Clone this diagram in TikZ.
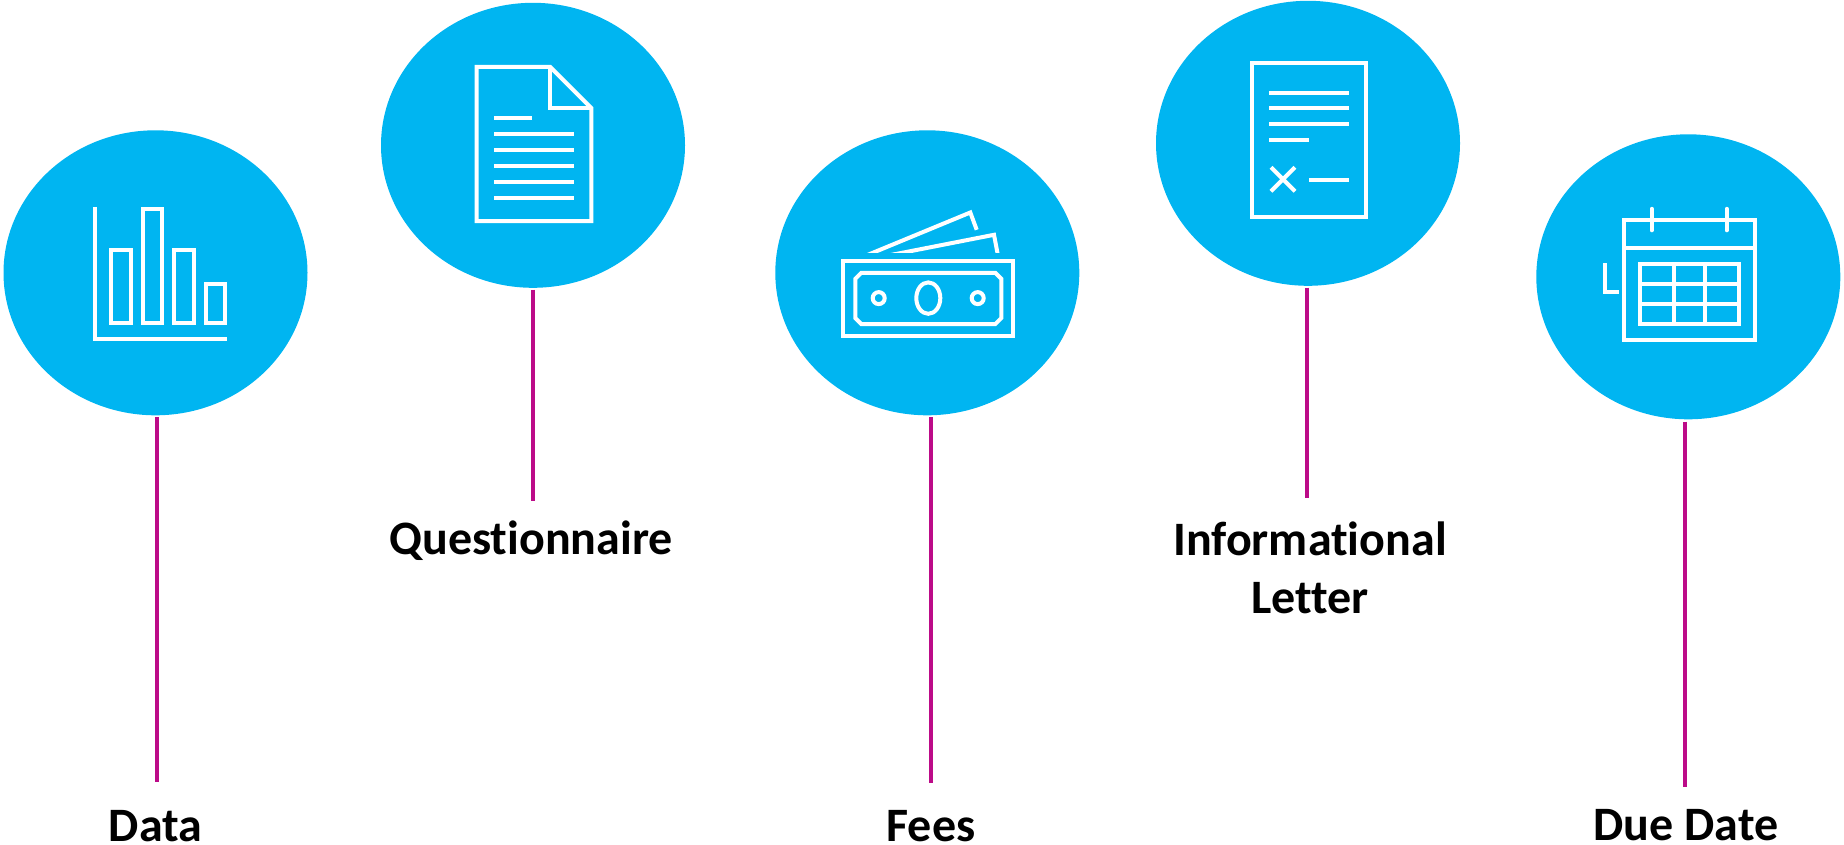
\documentclass[tikz,border=0pt]{standalone}
\usepackage{fontspec}
\setmainfont{Carlito}[Ligatures=NoCommon]
\usetikzlibrary{shapes.geometric}
\definecolor{bubble}{HTML}{00B5F1}
\definecolor{stem}{HTML}{BC0B88}
\tikzset{
  bubblenode/.style={ellipse,fill=bubble,draw=none,inner sep=0pt,minimum width=304pt,minimum height=285pt},
  stemline/.style={draw=stem,line width=4pt},
  iconline/.style={draw=white,line width=4pt,fill=none},
  labeltext/.style={font=\bfseries\fontsize{48}{58}\selectfont,text=black,inner sep=0pt,anchor=base,align=center}
}
\begin{document}
\begin{tikzpicture}[x=1pt,y=-1pt]
\useasboundingbox (0,-0.8) rectangle (1844,844.2);
% bubbles
\node[bubblenode] (c1) at (155.5,272) {};
\node[bubblenode] (c2) at (533,144.5) {};
\node[bubblenode] (c3) at (927.3,272) {};
\node[bubblenode] (c4) at (1308,142.5) {};
\node[bubblenode] (c5) at (1688.3,276) {};
% labels
\node[labeltext,text depth=0pt] (l1) at (155.5,840.5) {Data};
\node[labeltext] (l2) at (531,554) {Questionnaire};
\node[labeltext,text depth=0pt] (l3) at (931,840.5) {Fees};
\node[labeltext] (l4) at (1310,613) {Informational\\Letter};
\node[labeltext,text depth=0pt] (l5) at (1686,840) {Due Date};
% stem ends
\coordinate (e1) at (156.5,781);
\coordinate (e2) at (533.3,500);
\coordinate (e3) at (930.7,782);
\coordinate (e4) at (1307,497);
\coordinate (e5) at (1685,786);
\draw[stemline] ([xshift=1pt,yshift=-1.5pt]c1.south) -- (e1);
\draw[stemline] ([xshift=0.3pt,yshift=-1.5pt]c2.south) -- (e2);
\draw[stemline] ([xshift=3.4pt,yshift=-1.5pt]c3.south) -- (e3);
\draw[stemline] ([xshift=-1pt,yshift=-1.5pt]c4.south) -- (e4);
\draw[stemline] ([xshift=-3.3pt,yshift=-2pt]c5.south) -- (e5);
% icon 1: bar chart
\draw[iconline] (95,206) -- (95,338.3) -- (227.3,338.3);
\draw[iconline] (111,249.3) rectangle (130.7,322.3);
\draw[iconline] (142.7,208) rectangle (162,322.3);
\draw[iconline] (174,249.3) rectangle (193.7,322.3);
\draw[iconline] (206,283) rectangle (225.3,322.3);
% icon 2: document
\draw[iconline] (476.7,66) -- (550,66) -- (591.3,107.3) -- (591.3,220.3) -- (476.7,220.3) -- cycle;
\draw[iconline] (550,66) -- (550,107.3) -- (591.3,107.3);
\draw[iconline] (494,117.7) -- (532,117.7);
\foreach \yy in {133,149,165,181,197} \draw[iconline] (494,\yy) -- (574,\yy);
% icon 3: banknotes
\draw[iconline] (843.3,260) rectangle (1013.3,335);
\draw[iconline] (861.3,272) -- (995.3,272) -- (1001.3,278) -- (1001.3,317.3) -- (995.3,323.3) -- (861.3,323.3) -- (855.3,317.3) -- (855.3,278) -- cycle;
\draw[iconline] (878.7,297.3) circle (6);
\draw[iconline] (977.7,297.3) circle (6);
\draw[iconline] (928.3,297.3) ellipse (12 and 15.7);
\begin{scope}
\clip (850,200) rectangle (1010,251.7);
\draw[iconline] (856.8,258.6) -- (970.3,211.7) -- (976.7,229);
\draw[iconline] (868,258.6) -- (903.7,251.7) -- (994,234) -- (998,255);
\end{scope}
% icon 4: letter
\draw[iconline] (1251.7,62) rectangle (1366.3,216.3);
\foreach \yy in {92,107,123} \draw[iconline] (1269,\yy) -- (1349,\yy);
\draw[iconline] (1269,139) -- (1309,139);
\draw[iconline] (1271,166.5) -- (1295,190.5);
\draw[iconline] (1295,166.5) -- (1271,190.5);
\draw[iconline] (1309,179) -- (1349,179);
% icon 5: calendar
\draw[iconline] (1624,219.7) rectangle (1754.7,338.7);
\draw[iconline] (1624,247.3) -- (1754.7,247.3);
\draw[iconline,line cap=round] (1651.7,208) -- (1651.7,229.5);
\draw[iconline,line cap=round] (1726.7,208) -- (1726.7,229.5);
\draw[iconline] (1604.7,262.3) -- (1604.7,290.7) -- (1618.7,290.7);
\draw[iconline] (1640,263.3) rectangle (1738.7,322.7);
\draw[iconline] (1673.7,263.3) -- (1673.7,322.7);
\draw[iconline] (1705,263.3) -- (1705,322.7);
\draw[iconline] (1640,283) -- (1738.7,283);
\draw[iconline] (1640,303) -- (1738.7,303);
\end{tikzpicture}
\end{document}
